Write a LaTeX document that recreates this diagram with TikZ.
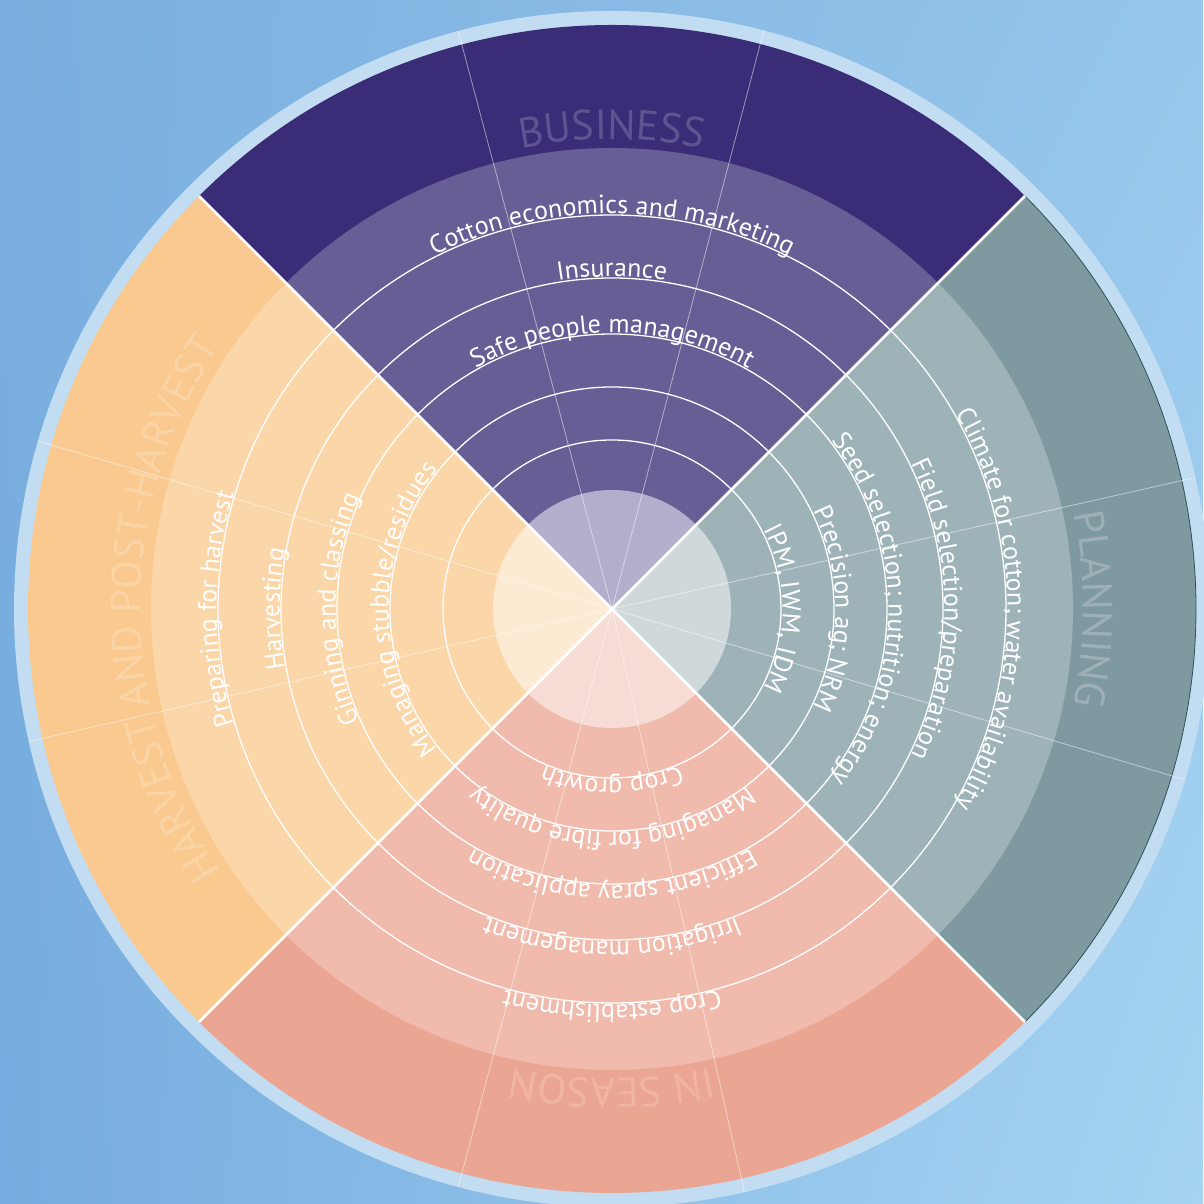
\documentclass[tikz,border=0pt]{standalone}
\usepackage{fontspec}
\setmainfont{PT Sans}
\usetikzlibrary{decorations.text,shadings}
\definecolor{bgUL}{HTML}{7AAEDE}
\definecolor{bgUR}{HTML}{96C6EB}
\definecolor{bgLL}{HTML}{76ACDF}
\definecolor{bgLR}{HTML}{A6D4F2}
\definecolor{ringblue}{HTML}{C2DCF1}
\definecolor{busD}{HTML}{3A2C76}
\definecolor{busL}{HTML}{685E96}
\definecolor{busC}{HTML}{B2AECB}
\definecolor{busT}{HTML}{5F5491}
\definecolor{plaD}{HTML}{7E9AA0}
\definecolor{plaL}{HTML}{9EB3B8}
\definecolor{plaC}{HTML}{CFD9DC}
\definecolor{plaT}{HTML}{9CB0B5}
\definecolor{plaEdge}{HTML}{2C5258}
\definecolor{seaD}{HTML}{EAA693}
\definecolor{seaL}{HTML}{F0BBAD}
\definecolor{seaC}{HTML}{F7DCD6}
\definecolor{seaT}{HTML}{F0B4A3}
\definecolor{harD}{HTML}{F9C98F}
\definecolor{harL}{HTML}{FAD6A8}
\definecolor{harC}{HTML}{FCEAD3}
\definecolor{harT}{HTML}{FBD4A6}
\newcommand\smallfmt{\color{white}\fontsize{26}{30}\selectfont}
\newcommand\bigfmt[1]{\color{#1}\fontsize{42}{48}\selectfont}
\newcommand\arclabel[5]{%
  \path[decorate, decoration={text along path, text format delimiters={|}{|},
    text={|#4|#5}, text align=center, raise=1.5pt}]
    (#2:#1) arc[start angle=#2, end angle=#3, radius=#1];}
\tikzset{
  ringline/.style={white, line width=1.3},
  divider/.style={white, line width=2.5},
  spoke/.style={white, opacity=0.5, line width=0.8}
}
\begin{document}
\begin{tikzpicture}[x=1pt,y=1pt]
\useasboundingbox (0,0) rectangle (1203,1204);
\shade[upper left=bgUL, upper right=bgUR, lower left=bgLL, lower right=bgLR] (0,0) rectangle (1203,1204);
\begin{scope}[shift={(612,595)}]
  \fill[ringblue] (0,0) circle[radius=598];
  \foreach \a/\dk/\lt/\dc in {45/busD/busL/busC, -45/plaD/plaL/plaC, -135/seaD/seaL/seaC, 135/harD/harL/harC}{
    \fill[\dk] (0,0) -- (\a:584) arc[start angle=\a, delta angle=90, radius=584] -- cycle;
    \fill[\lt] (0,0) -- (\a:461) arc[start angle=\a, delta angle=90, radius=461] -- cycle;
    \fill[\dc] (0,0) -- (\a:119) arc[start angle=\a, delta angle=90, radius=119] -- cycle;
  }
  \draw[plaEdge, line width=0.8] (-45:584) arc[start angle=-45, end angle=45, radius=584];
  \foreach \r in {169,222,275,331,394}{
    \draw[ringline] (0,0) circle[radius=\r];
  }
  \foreach \a in {75.3,104.9,163.7,192.8,255.1,282.8,12.7,-16.6}{
    \draw[spoke] (0,0) -- (\a:598);
  }
  \foreach \a in {45,135,225,315}{
    \draw[divider] (0,0) -- (\a:584);
  }
  % big labels
  \arclabel{468}{135}{45}{\bigfmt{busT}}{BUSINESS}
  \arclabel{470}{45}{-45}{\bigfmt{plaT}}{PLANNING}
  \arclabel{468}{-45}{-135}{\bigfmt{seaT}}{IN SEASON}
  \arclabel{470}{225}{135}{\bigfmt{harT}}{HARVEST AND POST-HARVEST}
  % business
  \arclabel{394}{135}{45}{\smallfmt}{Cotton economics and marketing}
  \arclabel{331}{135}{45}{\smallfmt}{Insurance}
  \arclabel{275}{135}{45}{\smallfmt}{Safe people management}
  % planning
  \arclabel{394}{45}{-45}{\smallfmt}{Climate for cotton; water availability}
  \arclabel{331}{45}{-45}{\smallfmt}{Field selection/preparation}
  \arclabel{275}{45}{-45}{\smallfmt}{Seed selection; nutrition; energy}
  \arclabel{222}{45}{-45}{\smallfmt}{Precision ag; NRM}
  \arclabel{169}{45}{-45}{\smallfmt}{IPM, IWM, IDM}
  % in season
  \arclabel{394}{-45}{-135}{\smallfmt}{Crop establishment}
  \arclabel{331}{-45}{-135}{\smallfmt}{Irrigation management}
  \arclabel{275}{-45}{-135}{\smallfmt}{Efficient spray application}
  \arclabel{222}{-45}{-135}{\smallfmt}{Managing for fibre quality}
  \arclabel{169}{-45}{-135}{\smallfmt}{Crop growth}
  % harvest
  \arclabel{394}{225}{135}{\smallfmt}{Preparing for harvest}
  \arclabel{331}{225}{135}{\smallfmt}{Harvesting}
  \arclabel{275}{225}{135}{\smallfmt}{Ginning and classing}
  \arclabel{222}{225}{135}{\smallfmt}{Managing stubble/residues}
\end{scope}
\end{tikzpicture}
\end{document}
